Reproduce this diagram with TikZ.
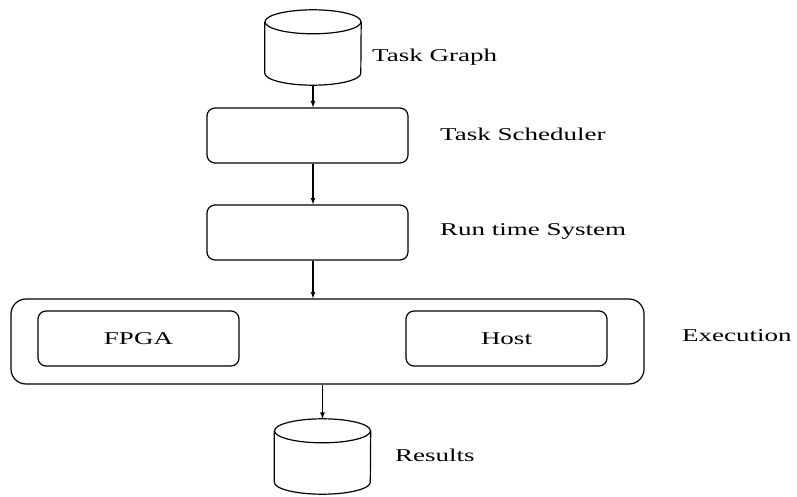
\documentclass[tikz,border=0pt]{standalone}
\usepackage{fontspec}
\setmainfont{Liberation Serif}[FakeStretch=1.5]

\begin{document}
\begin{tikzpicture}[x=1pt,y=1pt]
		\tikzstyle {store} = [minimum width=96pt, minimum height=75pt, inner sep=0pt]
		\tikzstyle {stage} = [draw, line width=1.2pt, rounded corners=8pt, minimum width=201pt, minimum height=55pt, inner sep=0pt, font=\fontsize{18}{20}\selectfont]
		\tikzstyle {note} = [anchor=west, inner sep=0pt, font=\fontsize{18}{20}\selectfont]
		\tikzstyle {flow} = [-latex, line width=1.2pt]

		\useasboundingbox (0,0) rectangle (797,-497);

		\node[store] (graph) at (313,-47.5) {};
		\node[stage] (sched) at (307.5,-135.5) {};
		\node[stage] (rts) at (307.5,-232.5) {};
		\node[stage, minimum width=633pt, minimum height=85pt, rounded corners=15pt] (exec) at (327.5,-341.5) {};
		\node[stage] (fpga) at (138.5,-338.5) {FPGA};
		\node[stage] (host) at (506.5,-338.5) {Host};
		\node[store] (res) at (322.5,-456.5) {};

		% database drums
		\foreach \n in {graph,res} {
			\draw[line width=1.2pt] ([yshift=-12pt]\n.north) ellipse (48pt and 12pt);
			\draw[line width=1.2pt] ([yshift=-12pt]\n.north west) -- ([yshift=12pt]\n.south west)
				arc (180:360:48pt and 12pt) -- ([yshift=-12pt]\n.north east);
		}

		\node[note] (graphtxt) at (372,-57) {Task Graph};
		\node[note] (schedtxt) at (440,-134) {Task Scheduler};
		\node[note] (rtstxt) at (440,-231) {Run time System};
		\node[note] (exectxt) at (682,-336) {Execution};
		\node[note] (restxt) at (395,-455) {Results};

		\draw[flow] (graph.south) -- (graph.south |- sched.north);
		\draw[flow] (sched.south -| graph.south) -- (rts.north -| graph.south);
		\draw[flow] (rts.south -| graph.south) -- (exec.north -| graph.south);
		\draw[flow] (exec.south -| res.north) -- (res.north);
	\end{tikzpicture}
\end{document}
